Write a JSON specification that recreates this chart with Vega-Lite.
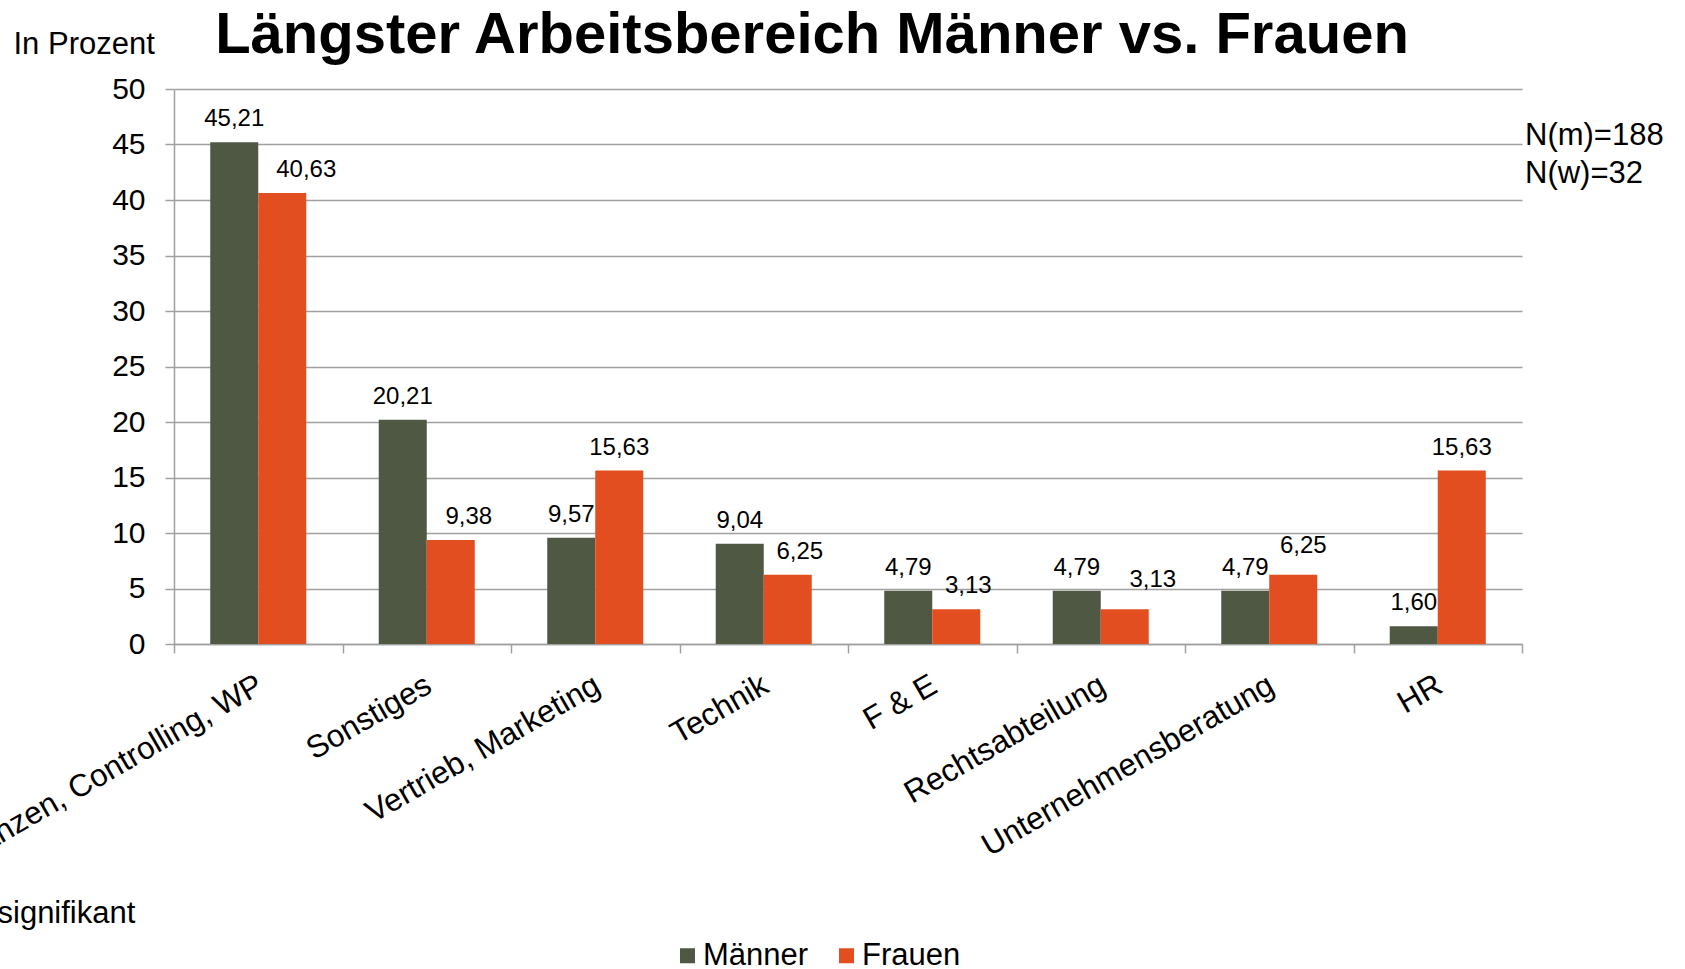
{
  "$schema": "https://vega.github.io/schema/vega-lite/v6.json",
  "autosize": {"type": "none"},
  "padding": {"left": 174, "top": 89, "right": 163, "bottom": 325},
  "width": 1348,
  "height": 555,
  "background": "white",
  "config": {
    "locale": {"number": {"decimal": ",", "thousands": ".", "grouping": [3], "currency": ["", " €"]}},
    "font": "Liberation Sans",
    "view": {"stroke": null}
  },
  "title": {
    "text": "Längster Arbeitsbereich Männer vs. Frauen",
    "fontSize": 58,
    "fontWeight": "bold",
    "color": "black",
    "anchor": "middle",
    "frame": "group",
    "dx": -36,
    "baseline": "alphabetic",
    "offset": -83
  },
  "data": {
    "values": [
      {"Bereich": "Finanzen, Controlling, WP", "Geschlecht": "Männer", "Wert": 45.21},
      {"Bereich": "Finanzen, Controlling, WP", "Geschlecht": "Frauen", "Wert": 40.63},
      {"Bereich": "Sonstiges", "Geschlecht": "Männer", "Wert": 20.21},
      {"Bereich": "Sonstiges", "Geschlecht": "Frauen", "Wert": 9.38},
      {"Bereich": "Vertrieb, Marketing", "Geschlecht": "Männer", "Wert": 9.57},
      {"Bereich": "Vertrieb, Marketing", "Geschlecht": "Frauen", "Wert": 15.63},
      {"Bereich": "Technik", "Geschlecht": "Männer", "Wert": 9.04},
      {"Bereich": "Technik", "Geschlecht": "Frauen", "Wert": 6.25},
      {"Bereich": "F & E", "Geschlecht": "Männer", "Wert": 4.79},
      {"Bereich": "F & E", "Geschlecht": "Frauen", "Wert": 3.13},
      {"Bereich": "Rechtsabteilung", "Geschlecht": "Männer", "Wert": 4.79},
      {"Bereich": "Rechtsabteilung", "Geschlecht": "Frauen", "Wert": 3.13},
      {"Bereich": "Unternehmensberatung", "Geschlecht": "Männer", "Wert": 4.79},
      {"Bereich": "Unternehmensberatung", "Geschlecht": "Frauen", "Wert": 6.25},
      {"Bereich": "HR", "Geschlecht": "Männer", "Wert": 1.60},
      {"Bereich": "HR", "Geschlecht": "Frauen", "Wert": 15.63}
    ]
  },
  "layer": [
    {
      "encoding": {
        "x": {
          "field": "Bereich",
          "type": "nominal",
          "sort": null,
          "scale": {"paddingInner": 0, "paddingOuter": 0},
          "axis": {
            "title": "signifikant",
            "titleX": -177,
            "titleY": 278,
            "titleAlign": "left",
            "titleAnchor": "start",
            "titleBaseline": "alphabetic",
            "titleAngle": 0,
            "titleFontSize": 31,
            "titleFontWeight": "normal",
            "titleColor": "black",
            "labelAngle": -30,
            "labelFontSize": 31.5,
            "labelColor": "black",
            "labelPadding": 16,
            "labelOffset": -6,
            "labelLimit": 0,
            "labelOverlap": false,
            "tickBand": "extent",
            "ticks": true,
            "tickSize": 9,
            "tickColor": "#A0A0A0",
            "tickWidth": 1.5,
            "domainColor": "#A0A0A0",
            "domainWidth": 1.5,
            "grid": false
          }
        },
        "xOffset": {
          "field": "Geschlecht",
          "type": "nominal",
          "sort": ["Männer", "Frauen"],
          "scale": {"paddingInner": 0, "paddingOuter": 0.755}
        },
        "y": {
          "field": "Wert",
          "type": "quantitative",
          "scale": {"domain": [0, 50], "nice": false},
          "axis": {
            "title": "In Prozent",
            "titleAngle": 0,
            "titleAlign": "left",
            "titleBaseline": "alphabetic",
            "titleX": -161,
            "titleY": -36,
            "titleFontSize": 31,
            "titleFontWeight": "normal",
            "titleColor": "black",
            "values": [0, 5, 10, 15, 20, 25, 30, 35, 40, 45, 50],
            "labelFontSize": 30,
            "labelColor": "black",
            "labelPadding": 20,
            "tickSize": 9,
            "tickColor": "#A0A0A0",
            "tickWidth": 1.5,
            "domainColor": "#A0A0A0",
            "domainWidth": 1.5,
            "gridColor": "#A0A0A0",
            "gridWidth": 1.5
          }
        }
      },
      "layer": [
        {
          "mark": {"type": "bar"},
          "encoding": {
            "color": {
              "field": "Geschlecht",
              "type": "nominal",
              "sort": ["Männer", "Frauen"],
              "scale": {"domain": ["Männer", "Frauen"], "range": ["#4F5842", "#E24E1F"]},
              "legend": {
                "title": null,
                "orient": "none",
                "legendX": 498,
                "legendY": 851,
                "direction": "horizontal",
                "symbolType": "square",
                "symbolSize": 225,
                "symbolStrokeWidth": 0,
                "labelFontSize": 31,
                "labelColor": "black",
                "labelOffset": 0,
                "columnPadding": 22,
                "padding": 0
              }
            }
          }
        },
        {
          "transform": [{"filter": "datum.Geschlecht === 'Männer' || datum.Bereich === 'Vertrieb, Marketing' || datum.Bereich === 'HR'"}],
          "mark": {"type": "text", "baseline": "alphabetic", "dy": -16, "fontSize": 24, "color": "black"},
          "encoding": {"text": {"field": "Wert", "type": "quantitative", "format": ".2f"}}
        },
        {
          "transform": [{"filter": "datum.Geschlecht === 'Frauen' && datum.Bereich === 'Finanzen, Controlling, WP'"}],
          "mark": {"type": "text", "baseline": "alphabetic", "dy": -16, "dx": 24, "fontSize": 24, "color": "black"},
          "encoding": {"text": {"field": "Wert", "type": "quantitative", "format": ".2f"}}
        },
        {
          "transform": [{"filter": "datum.Geschlecht === 'Frauen' && datum.Bereich === 'Sonstiges'"}],
          "mark": {"type": "text", "baseline": "alphabetic", "dy": -16, "dx": 18, "fontSize": 24, "color": "black"},
          "encoding": {"text": {"field": "Wert", "type": "quantitative", "format": ".2f"}}
        },
        {
          "transform": [{"filter": "datum.Geschlecht === 'Frauen' && (datum.Bereich === 'Technik' || datum.Bereich === 'F & E')"}],
          "mark": {"type": "text", "baseline": "alphabetic", "dy": -16, "dx": 12, "fontSize": 24, "color": "black"},
          "encoding": {"text": {"field": "Wert", "type": "quantitative", "format": ".2f"}}
        },
        {
          "transform": [{"filter": "datum.Geschlecht === 'Frauen' && datum.Bereich === 'Rechtsabteilung'"}],
          "mark": {"type": "text", "baseline": "alphabetic", "dy": -22, "dx": 28, "fontSize": 24, "color": "black"},
          "encoding": {"text": {"field": "Wert", "type": "quantitative", "format": ".2f"}}
        },
        {
          "transform": [{"filter": "datum.Geschlecht === 'Frauen' && datum.Bereich === 'Unternehmensberatung'"}],
          "mark": {"type": "text", "baseline": "alphabetic", "dy": -22, "dx": 10, "fontSize": 24, "color": "black"},
          "encoding": {"text": {"field": "Wert", "type": "quantitative", "format": ".2f"}}
        }
      ]
    },
    {
      "data": {"values": [{"note": "N(m)=188\nN(w)=32"}]},
      "mark": {"type": "text", "align": "left", "baseline": "alphabetic", "lineBreak": "\n", "lineHeight": 38.5, "fontSize": 31, "dx": 3, "color": "black"},
      "encoding": {
        "x": {"value": "width"},
        "y": {"datum": 44.96},
        "text": {"field": "note"}
      }
    }
  ]
}
